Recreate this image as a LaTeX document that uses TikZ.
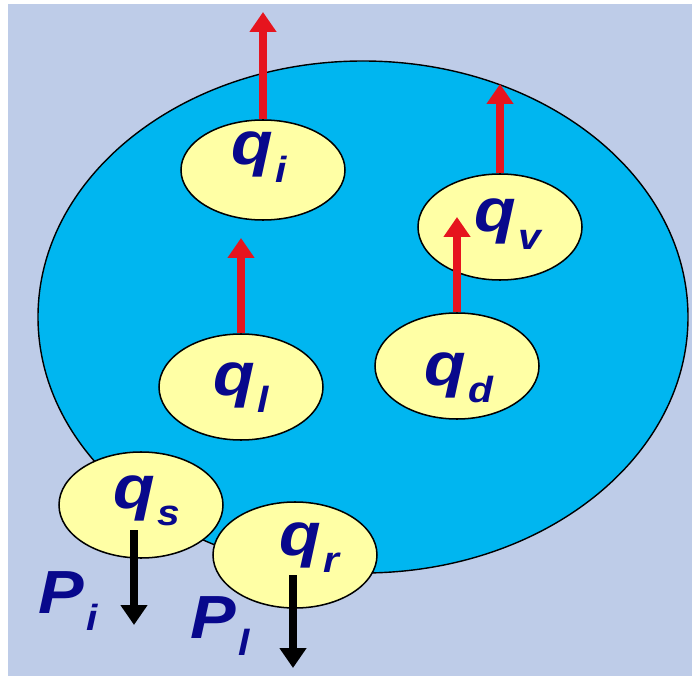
\documentclass[tikz,border=0pt]{standalone}
\usepackage{fontspec}
\setmainfont{Liberation Sans}
\usepackage{tikz}
\usetikzlibrary{shapes.geometric, arrows.meta, positioning, calc}

\definecolor{bgblue}{RGB}{190,204,232}
\definecolor{tankblue}{RGB}{0,182,240}
\definecolor{poolyellow}{RGB}{255,255,165}
\definecolor{inkblue}{RGB}{8,8,140}
\definecolor{flowred}{RGB}{230,20,30}

% symbol with lowered index
\newcommand{\symsub}[2]{\scalebox{1.12}[1]{{\fontsize{52}{52}\selectfont #1}\kern2pt\raisebox{-15pt}{\fontsize{31}{31}\selectfont #2}}}

\begin{document}
\begin{tikzpicture}[
  x=0.3mm, y=-0.3mm,
  drop/.style={draw, ellipse, fill=tankblue, line width=1.2pt, minimum width=195mm, minimum height=153.6mm, inner sep=0pt},
  pool/.style={draw, ellipse, fill=poolyellow, line width=1.3pt, minimum width=49.2mm, minimum height=31.8mm, inner sep=0pt},
  lbl/.style={anchor=base west, inner sep=0pt, text=inkblue, font=\bfseries\itshape},
  uparr/.style={-{Triangle[width=22pt, length=17pt]}, line width=7pt, flowred},
  downarr/.style={-{Triangle[width=22pt, length=17pt]}, line width=6.5pt, black}
]
  % ----- Background -----
  \useasboundingbox (0,0) rectangle (692,676);
  \fill[bgblue] (8,4) rectangle (692,676);

  % ----- Storage (big ellipse) -----
  \node[drop] (tank) at (363,317) {};

  % ----- Compartments -----
  \node[pool, minimum height=30mm] (qi) at (263,170) {};
  \node[pool] (qv) at (500,227) {};
  \node[pool] (ql) at (241,387) {};
  \node[pool] (qd) at (457,366) {};
  \node[pool] (qs) at (141,505) {};
  \node[pool] (qr) at (295,555) {};

  % ----- Free arrow ends -----
  \coordinate (itop)  at (263,12);
  \coordinate (vtop)  at (500,84);
  \coordinate (ltop)  at (241,238);
  \coordinate (dtop)  at (457,217);
  \coordinate (sdown) at (134,625);
  \coordinate (rdown) at (293,668);

  % ----- Upward fluxes -----
  \draw[uparr] (qi.north) -- (itop);
  \draw[uparr] (qv.north) -- (vtop);
  \draw[uparr] (ql.north) -- (ltop);
  \draw[uparr] (qd.north) -- (dtop);

  % ----- Downward fluxes -----
  \draw[downarr] ([shift={(-7,25)}]qs.center) -- (sdown);
  \draw[downarr] ([shift={(-2,20)}]qr.center) -- (rdown);

  % ----- Labels -----
  \node[lbl] (tqi) at (231,165) {\symsub{q}{i}};
  \node[lbl] (tqv) at (474,232) {\symsub{q}{v}};
  \node[lbl] (tql) at (213,395) {\symsub{q}{l}};
  \node[lbl] (tqd) at (424,385) {\symsub{q}{d}};
  \node[lbl] (tqs) at (113,508) {\symsub{q}{s}};
  \node[lbl] (tqr) at (279,555) {\symsub{q}{r}};
  \node[lbl] (tpi) at (38,613)  {\symsub{P}{i}};
  \node[lbl] (tpl) at (190,638) {\symsub{P}{l}};
\end{tikzpicture}
\end{document}
